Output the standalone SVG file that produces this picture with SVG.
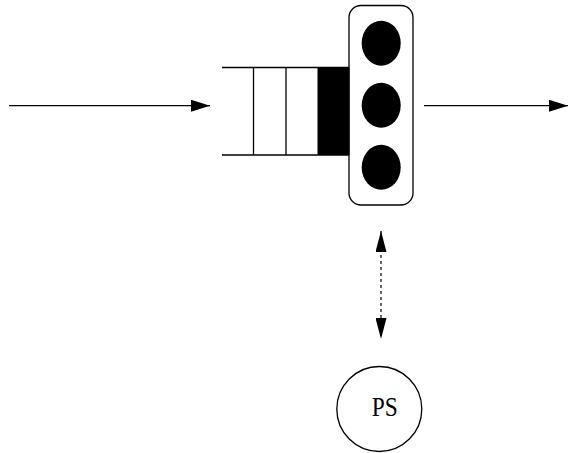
<svg xmlns="http://www.w3.org/2000/svg" width="568" height="453" viewBox="0 0 568 453">
  <style>
    .ln { stroke: #000; stroke-width: 1.3; fill: none; }
    .dash { stroke: #000; stroke-width: 1.2; fill: none; stroke-dasharray: 3 3; }
    .blk { fill: #000; stroke: none; }
    .lbl { font-family: "Liberation Serif", "Times New Roman", serif; font-size: 27px; fill: #000; }
  </style>
  <defs>
    <marker id="head" viewBox="0 0 19 12" refX="19" refY="6" markerWidth="19" markerHeight="12" markerUnits="userSpaceOnUse" orient="auto-start-reverse">
      <path d="M0,0 L19,6 L0,12 Z" fill="#000"/>
    </marker>
    <marker id="headV" viewBox="0 0 21 11" refX="21" refY="5.5" markerWidth="21" markerHeight="11" markerUnits="userSpaceOnUse" orient="auto-start-reverse">
      <path d="M0,0 L21,5.5 L0,11 Z" fill="#000"/>
    </marker>
  </defs>

  <!-- queue buffer -->
  <g id="queue">
    <line class="ln" x1="222" y1="67.5" x2="349" y2="67.5"/>
    <line class="ln" x1="222" y1="155" x2="349" y2="155"/>
    <line class="ln" x1="253.5" y1="67.5" x2="253.5" y2="155"/>
    <line class="ln" x1="286" y1="67.5" x2="286" y2="155"/>
    <rect class="blk" x="317.5" y="67.5" width="32" height="87.5"/>
  </g>

  <!-- server with three slots -->
  <g id="server">
    <rect class="ln" x="349" y="5.5" width="64" height="199.5" rx="12" ry="12" fill="#fff"/>
    <ellipse class="blk" cx="381.2" cy="43.2" rx="19.5" ry="22.5"/>
    <ellipse class="blk" cx="381.2" cy="105.3" rx="19.5" ry="22.5"/>
    <ellipse class="blk" cx="381.2" cy="167.3" rx="19.5" ry="22.5"/>
  </g>

  <!-- PS node -->
  <g id="ps">
    <circle class="ln" cx="379.3" cy="409" r="42.5"/>
    <text class="lbl" x="371.7" y="416" textLength="26" lengthAdjust="spacingAndGlyphs">PS</text>
  </g>

  <!-- connectors -->
  <g id="connectors">
    <line class="ln" x1="9" y1="105.7" x2="210" y2="105.7" marker-end="url(#head)"/>
    <line class="ln" x1="424" y1="105.7" x2="568" y2="105.7" marker-end="url(#head)"/>
    <line class="dash" x1="381" y1="231" x2="381" y2="339" marker-start="url(#headV)" marker-end="url(#headV)"/>
  </g>
</svg>
